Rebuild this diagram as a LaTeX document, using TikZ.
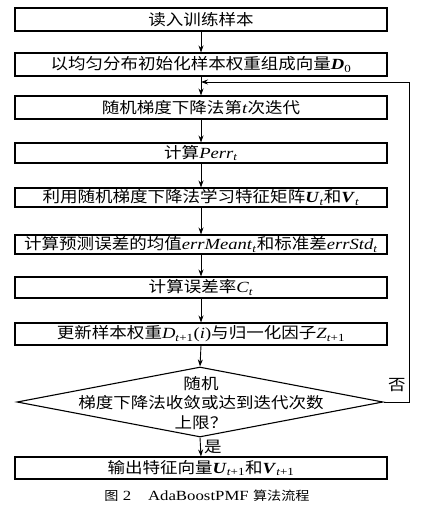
\documentclass[tikz,border=0pt]{standalone}
\usepackage{fontspec}
\setmainfont[FakeStretch=1.2]{Liberation Serif}
\newfontfamily\cjk[FakeStretch=1.13]{Noto Sans CJK SC}
\newcommand\zh[1]{{\cjk #1}}
\newcommand\bi[1]{\textbf{\textit{#1}}}
\newcommand\sub[1]{\textsubscript{#1}}
\usetikzlibrary{arrows.meta,shapes.geometric}
\begin{document}
\begin{tikzpicture}[x=1pt,y=-1pt,
  box/.style={draw,line width=1.1pt,minimum width=372pt,inner sep=0pt,font=\fontsize{15.5}{18}\selectfont},
  arr/.style={-{Stealth[length=7pt,width=5pt]},line width=0.9pt},
  lbl/.style={inner sep=0pt,font=\fontsize{15.5}{18}\selectfont}]
\useasboundingbox (0,0) rectangle (425,508);
\node[box,minimum height=23pt] (b1) at (201,19.5) {\zh{读入训练样本}};
\node[box,minimum height=23pt] (b2) at (201,64.5) {\zh{以均匀分布初始化样本权重组成向量}\bi{D}\sub{0}};
\node[box,minimum height=23pt] (b3) at (201,107.5) {\zh{随机梯度下降法第}\textit{t}\zh{次迭代}};
\node[box,minimum height=20pt] (b4) at (201,153) {\zh{计算}\textit{Perr}\sub{\textit{t}}};
\node[box,minimum height=19pt] (b5) at (201,197.5) {\zh{利用随机梯度下降法学习特征矩阵}\bi{U}\sub{\textit{t}}\zh{和}\bi{V}\sub{\textit{t}}};
\node[box,minimum height=19pt] (b6) at (201,244.5) {\zh{计算预测误差的均值}\textit{errMeant}\sub{\textit{t}}\zh{和标准差}\textit{errStd}\sub{\textit{t}}};
\node[box,minimum height=21pt] (b7) at (201,287.5) {\zh{计算误差率}\textit{C}\sub{\textit{t}}};
\node[box,minimum height=22pt] (b8) at (201,334) {\zh{更新样本权重}\textit{D}\sub{\textit{t}+1}(\textit{i})\zh{与归一化因子}\textit{Z}\sub{\textit{t}+1}};
\node[draw,diamond,line width=1.1pt,minimum width=366pt,minimum height=70pt,inner sep=0pt] (d) at (200,402) {};
\node[align=center,inner sep=0pt,font=\fontsize{15.5}{19.5}\selectfont] (dt) at (201,403) {\zh{随机}\\\zh{梯度下降法收敛或达到迭代次数}\\\zh{上限？}};
\node[box,minimum height=22pt] (b9) at (201,468) {\zh{输出特征向量}\bi{U}\sub{\textit{t}+1}\zh{和}\bi{V}\sub{\textit{t}+1}};
\node[inner sep=0pt,font=\fontsize{14}{16}\selectfont] (cap) at (207,496) {{\fontsize{12.5}{15}\selectfont\zh{图}}~2\hspace{1.2em}AdaBoostPMF {\fontsize{12.5}{15}\selectfont\zh{算法流程}}};
\node[lbl] (no) at (397,385) {\zh{否}};
\node[lbl] (yes) at (213,447) {\zh{是}};
\coordinate (rc) at (409,82);
\coordinate (lp) at (201,82);
\draw[arr] (b1.south) -- (b2.north);
\draw[arr] (b2.south) -- (b3.north);
\draw[arr] (b3.south) -- (b4.north);
\draw[arr] (b4.south) -- (b5.north);
\draw[arr] (b5.south) -- (b6.north);
\draw[arr] (b6.south) -- (b7.north);
\draw[arr] (b7.south) -- (b8.north);
\draw[arr] (b8.south) -- (d.north);
\draw[arr] (d.south) -- (b9.north);
\draw[arr] (d.east) -| (rc) -- (lp);
\end{tikzpicture}
\end{document}
